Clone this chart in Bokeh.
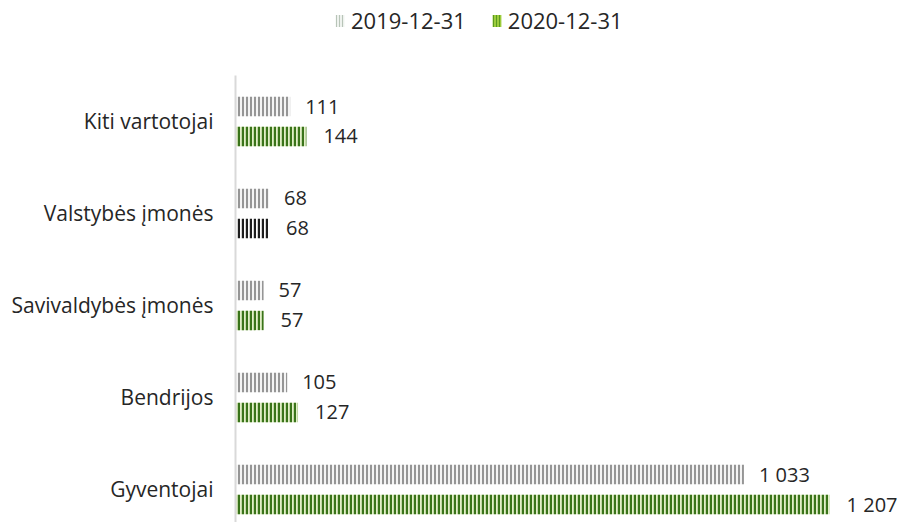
from bokeh.plotting import figure
from bokeh.models import ColumnDataSource, Range1d, FixedTicker, Legend, LegendItem
from bokeh.layouts import column
from bokeh.embed import file_html
from bokeh.resources import INLINE
from bokeh.core.properties import value

categories = ["Gyventojai", "Bendrijos", "Savivaldybės įmonės", "Valstybės įmonės", "Kiti vartotojai"]
series_names = ["2019-12-31", "2020-12-31"]
values_2019 = [1033, 105, 57, 68, 111]
values_2020 = [1207, 127, 57, 68, 144]

hatch_2019 = ["#7d7d7d"] * 5
hatch_2020 = ["#3a741a", "#3a741a", "#3a741a", "#1e1e1e", "#3a741a"]
fill_2020 = ["#e2efc8", "#e2efc8", "#e2efc8", "#ffffff", "#e2efc8"]

FONT = "Open Sans"

def fmt(v):
    return f"{v:,}".replace(",", " ")

pos = list(range(len(categories)))
off = 0.163
bh = 0.21

src19 = ColumnDataSource(dict(y=[p + off for p in pos], v=values_2019,
                              lab=[fmt(v) for v in values_2019], hc=hatch_2019))
src20 = ColumnDataSource(dict(y=[p - off for p in pos], v=values_2020,
                              lab=[fmt(v) for v in values_2020], hc=hatch_2020, fc=fill_2020))

p = figure(width=897, height=485, output_backend="svg", toolbar_location=None,
           x_range=Range1d(0, 1345), y_range=Range1d(-0.359, 4.5),
           min_border_left=235, min_border_right=0, min_border_bottom=0, min_border_top=38)
p.outline_line_color = None
p.grid.visible = False
p.xaxis.visible = False

p.hbar(y="y", right="v", left=0, height=bh, source=src19,
       fill_color="#f4f4f4", line_color=None,
       hatch_pattern="vertical_line", hatch_scale=4, hatch_weight=1.6, hatch_color="hc")
p.hbar(y="y", right="v", left=0, height=bh, source=src20,
       fill_color="fc", line_color=None,
       hatch_pattern="vertical_line", hatch_scale=4, hatch_weight=2.4, hatch_color="hc")

p.text(x="v", y="y", text="lab", source=src19, x_offset=15, text_baseline="middle",
       text_font=value(FONT), text_font_size="20px", text_color="#262626")
p.text(x="v", y="y", text="lab", source=src20, x_offset=17, text_baseline="middle",
       text_font=value(FONT), text_font_size="20px", text_color="#262626")

ya = p.yaxis[0]
ya.ticker = FixedTicker(ticks=pos)
ya.major_label_overrides = {i: c for i, c in zip(pos, categories)}
ya.major_tick_line_color = None
ya.minor_tick_line_color = None
ya.axis_line_color = "#d9d9d9"
ya.axis_line_width = 2
ya.major_label_standoff = 16
ya.major_label_text_font = FONT
ya.major_label_text_font_size = "21px"
ya.major_label_text_color = "#262626"

# legend strip
lf = figure(width=897, height=37, output_backend="svg", toolbar_location=None,
            x_range=Range1d(10, 11), y_range=Range1d(10, 11),
            min_border_left=0, min_border_right=0, min_border_bottom=0, min_border_top=0)
lf.axis.visible = False
lf.grid.visible = False
lf.outline_line_color = None
leg_a = lf.rect(x=[0], y=[0], width=1, height=1, fill_color="#eef2ee", line_color=None,
                hatch_pattern="vertical_line", hatch_scale=3, hatch_weight=1, hatch_color="#b8c4b8")
leg_b = lf.rect(x=[0], y=[0], width=1, height=1, fill_color="#9ccc3c", line_color=None,
                hatch_pattern="vertical_line", hatch_scale=3, hatch_weight=1, hatch_color="#5a9a20")
legend = Legend(items=[LegendItem(label=series_names[0], renderers=[leg_a]),
                       LegendItem(label=series_names[1], renderers=[leg_b])],
                orientation="horizontal", location=(99, 2),
                label_text_font=FONT, label_text_font_size="22px", label_text_color="#262626",
                glyph_width=11, glyph_height=15, label_standoff=6, spacing=25,
                border_line_color=None, background_fill_alpha=0, margin=0, padding=3)
lf.add_layout(legend)

layout = column(lf, p, spacing=0)
open("out.html", "w").write(file_html(layout, INLINE))
